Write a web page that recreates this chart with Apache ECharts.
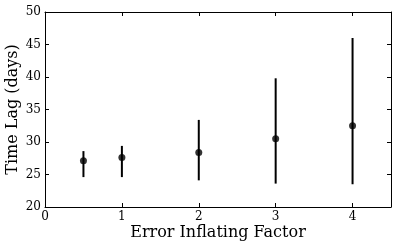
<!DOCTYPE html>
<html><head><meta charset="utf-8">
<script src="https://cdn.jsdelivr.net/npm/echarts@6/dist/echarts.min.js"></script>
<style>html,body{margin:0;padding:0;background:#fff}#c{width:399px;height:249px}</style>
</head><body><div id="c"></div>
<script>
var factors = [0.5, 1, 2, 3, 4];
var lags = [27.1, 27.6, 28.4, 30.5, 32.5];
var lowErr = [24.6, 24.6, 24.1, 23.6, 23.5];
var highErr = [28.6, 29.4, 33.4, 39.8, 46.0];
var yTicks = [20, 25, 30, 35, 40, 45, 50];
var xTicks = [0, 1, 2, 3, 4];

var font = 'DejaVu Serif';
var chart = echarts.init(document.getElementById('c'));
var errData = factors.map(function (f, i) { return [f, lowErr[i], highErr[i]]; });
var ptData = factors.map(function (f, i) { return [f, lags[i]]; });
function axisBase() {
  return {
    axisLine: { show: true, onZero: false, lineStyle: { color: '#000', width: 1 } },
    axisTick: { show: true, inside: true, length: 4, lineStyle: { color: '#000' } },
    splitLine: { show: false }
  };
}
chart.setOption({
  animation: false,
  grid: { left: 45, right: 8, top: 12, bottom: 42, containLabel: false, outerBoundsMode: 'none' },
  xAxis: [
    Object.assign(axisBase(), {
      type: 'value', min: 0, max: 4.5, interval: 1, position: 'bottom',
      name: 'Error Inflating Factor', nameLocation: 'middle', nameGap: 18, nameMoveOverlap: false,
      nameTextStyle: { fontFamily: font, fontSize: 16, color: '#000' },
      axisLabel: { fontFamily: font, fontSize: 12, color: '#000', margin: 4,
        formatter: function (v) { return xTicks.indexOf(v) >= 0 ? String(v) : ''; } }
    }),
    Object.assign(axisBase(), {
      type: 'value', min: 0, max: 4.5, interval: 1, position: 'top',
      axisLabel: { show: false }
    })
  ],
  yAxis: [
    Object.assign(axisBase(), {
      type: 'value', min: 20, max: 50, interval: 5, position: 'left',
      name: 'Time Lag (days)', nameLocation: 'middle', nameGap: 24, nameMoveOverlap: false,
      nameTextStyle: { fontFamily: font, fontSize: 16, color: '#000' },
      axisLabel: { fontFamily: font, fontSize: 12, color: '#000', margin: 4,
        formatter: function (v) { return yTicks.indexOf(v) >= 0 ? String(v) : ''; } }
    }),
    Object.assign(axisBase(), {
      type: 'value', min: 20, max: 50, interval: 5, position: 'right',
      axisLabel: { show: false }
    })
  ],
  series: [
    {
      type: 'custom',
      data: errData,
      renderItem: function (params, api) {
        var p1 = api.coord([api.value(0), api.value(1)]);
        var p2 = api.coord([api.value(0), api.value(2)]);
        return { type: 'line', shape: { x1: p1[0], y1: p1[1], x2: p2[0], y2: p2[1] },
          style: { stroke: '#000', lineWidth: 2 } };
      },
      z: 2
    },
    {
      type: 'scatter', data: ptData, symbol: 'circle', symbolSize: 7,
      itemStyle: { color: '#000' }, z: 3
    }
  ]
});
</script></body></html>
